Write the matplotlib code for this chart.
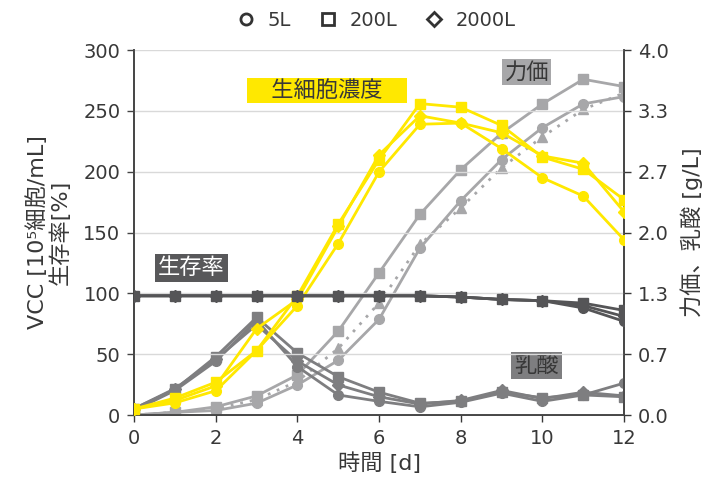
import numpy as np
import matplotlib.pyplot as plt
from matplotlib.lines import Line2D

plt.rcParams['font.family'] = ['DejaVu Sans', 'Noto Sans CJK JP']

days = list(range(13))

# VCC [10^5 cells/mL]
vcc_5l = [5, 10, 20, 53, 90, 141, 200, 239, 240, 219, 195, 180, 144]
vcc_200l = [5, 14, 27, 53, 98, 157, 210, 256, 253, 238, 212, 202, 177]
vcc_2000l = [5, 12, 24, 71, 95, 155, 214, 246, 240, 232, 213, 207, 167]

# viability [%]
via_5l = [98, 98, 98, 98, 98, 98, 98, 98, 97, 95, 94, 88, 77]
via_200l = [98, 98, 98, 98, 98, 98, 98, 98, 97, 95, 94, 92, 86]
via_2000l = [98, 98, 98, 98, 98, 98, 98, 98, 97, 95, 94, 90, 81]

# titer [g/L]
tit_5l = [0.0, 0.03, 0.05, 0.13, 0.33, 0.60, 1.05, 1.83, 2.35, 2.80, 3.15, 3.41, 3.49]
tit_200l = [0.0, 0.03, 0.09, 0.21, 0.44, 0.92, 1.56, 2.20, 2.69, 3.09, 3.41, 3.68, 3.60]
tit_2000l = [0.0, 0.03, 0.07, 0.17, 0.37, 0.73, 1.23, 1.87, 2.27, 2.71, 3.05, 3.35, 3.53]

# lactate [g/L]
lac_5l = [0.05, 0.27, 0.59, 1.04, 0.53, 0.22, 0.15, 0.09, 0.14, 0.24, 0.15, 0.22, 0.35]
lac_200l = [0.07, 0.28, 0.64, 1.07, 0.68, 0.42, 0.25, 0.13, 0.15, 0.25, 0.19, 0.22, 0.20]
lac_2000l = [0.07, 0.29, 0.61, 0.99, 0.59, 0.33, 0.20, 0.12, 0.16, 0.27, 0.18, 0.25, 0.21]

yellow = '#FFE800'
c_tit = '#A7A7A9'
c_lac = '#7E7E80'
c_via = '#555557'
txt = '#383838'

fig = plt.figure(figsize=(7.06, 4.86), dpi=100)
ax = fig.add_axes([0.19, 0.146, 0.694, 0.751])
ax2 = ax.twinx()

lw = 2.0
ms = 7
dms = 6

# cell density
ax.plot(days, vcc_5l, color=yellow, lw=lw, marker='o', ms=ms, zorder=3)
ax.plot(days, vcc_200l, color=yellow, lw=lw, marker='s', ms=ms, zorder=3)
ax.plot(days, vcc_2000l, color=yellow, lw=lw, marker='D', ms=dms, zorder=3)

# viability
ax.plot(days, via_5l, color=c_via, lw=lw, marker='o', ms=ms, zorder=4)
ax.plot(days, via_2000l, color=c_via, lw=lw, marker='D', ms=dms, zorder=4)
ax.plot(days, via_200l, color=c_via, lw=lw, marker='s', ms=ms, zorder=4)

# titer
ax2.plot(days, tit_5l, color=c_tit, lw=lw, marker='o', ms=ms, zorder=2)
ax2.plot(days, tit_200l, color=c_tit, lw=lw, marker='s', ms=ms, zorder=2)
ax2.plot(days, tit_2000l, color=c_tit, lw=lw, ls=(0, (1, 2.5)), marker='^', ms=ms, zorder=2)

# lactate
ax2.plot(days, lac_5l, color=c_lac, lw=lw, marker='o', ms=ms, zorder=3)
ax2.plot(days, lac_200l, color=c_lac, lw=lw, marker='s', ms=ms, zorder=3)
ax2.plot(days, lac_2000l, color=c_lac, lw=lw, marker='D', ms=dms, zorder=3)

ax.set_zorder(ax2.get_zorder() + 1)
ax.patch.set_visible(False)

ax.set_xlim(0, 12)
ax.set_ylim(0, 300)
ax.set_xticks(range(0, 13, 2))
ax.set_yticks(range(0, 301, 50))
ax.grid(axis='y', color='#D9D9D9', lw=1)
ax.set_axisbelow(True)

ax2.set_ylim(0, 4)
r_ticks = np.linspace(0, 4, 7)
ax2.set_yticks(r_ticks)
ax2.set_yticklabels(['%.1f' % t for t in r_ticks])

for a in (ax, ax2):
    a.spines['top'].set_visible(False)
    for s in ('left', 'right', 'bottom'):
        a.spines[s].set_color('#444444')
        a.spines[s].set_linewidth(1.2)
    a.tick_params(labelsize=14, colors=txt, length=5, width=1, pad=5)
ax.tick_params(axis='y', colors='#444444', labelcolor=txt)

ax.set_xlabel('時間 [d]', fontsize=16, color=txt, labelpad=3)
ax.set_ylabel('VCC [10⁵細胞/mL]\n生存率[%]', fontsize=16, color=txt, labelpad=9, linespacing=1.05)
ax2.set_ylabel('力価、乳酸 [g/L]', fontsize=16, color=txt, labelpad=8)

# labels in boxes
box = dict(boxstyle='square,pad=0.1', ec='none')
ax.text(4.73, 267, '\u3000生細胞濃度\u3000', fontsize=16, color=txt, ha='center', va='center', zorder=6,
        bbox=dict(box, fc=yellow))
ax2.text(9.62, 3.76, '力価', fontsize=16, color=txt, ha='center', va='center', zorder=6,
         bbox=dict(box, fc=c_tit))
ax.text(1.4, 121, '生存率', fontsize=16, color='white', ha='center', va='center', zorder=6,
        bbox=dict(boxstyle='square,pad=0.15', ec='none', fc='#58585A'))
ax2.text(9.85, 0.54, '乳酸', fontsize=16, color=txt, ha='center', va='center', zorder=6,
         bbox=dict(boxstyle='square,pad=0.15', ec='none', fc=c_lac))

handles = [
    Line2D([], [], ls='none', marker='o', ms=8, mfc='white', mec='#333333', mew=2),
    Line2D([], [], ls='none', marker='s', ms=9, mfc='white', mec='#333333', mew=2),
    Line2D([], [], ls='none', marker='D', ms=7, mfc='white', mec='#333333', mew=2),
]
fig.legend(handles, ['5L', '200L', '2000L'], loc='center', bbox_to_anchor=(0.526, 0.958),
           ncol=3, frameon=False, fontsize=14, handletextpad=0.1, columnspacing=0.9,
           labelcolor=txt)

fig.savefig('out.png', dpi=100)
